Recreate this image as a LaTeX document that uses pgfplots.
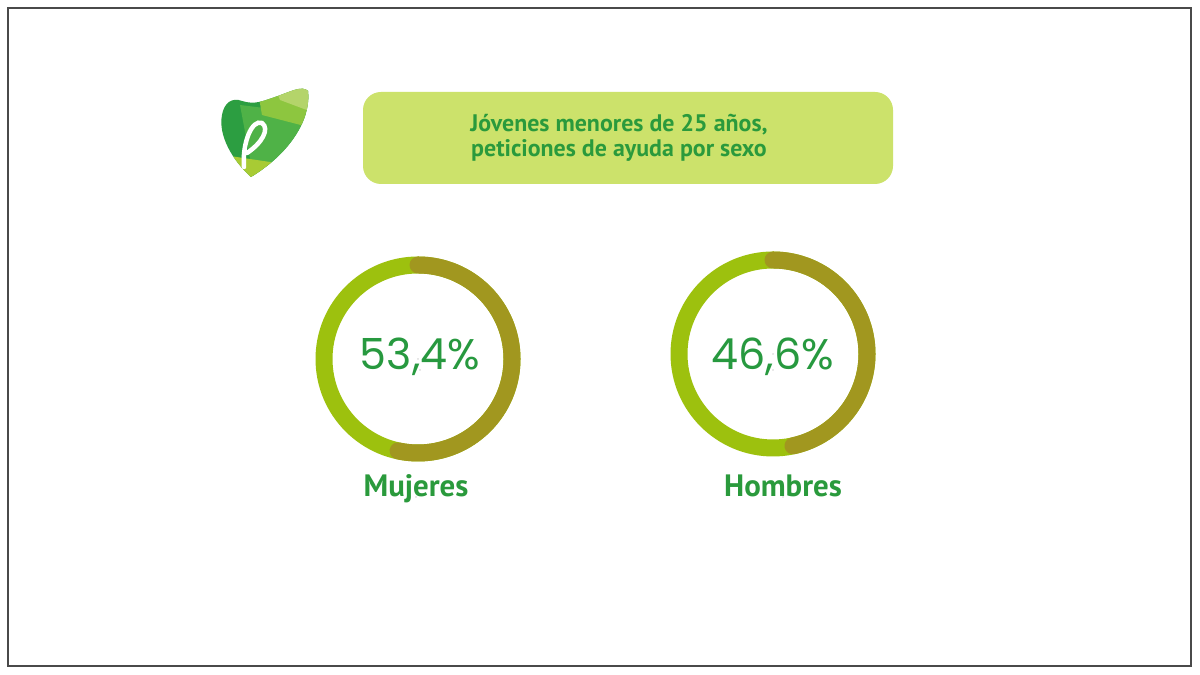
\documentclass[border=0pt]{standalone}
\usepackage{pgfplots}
\pgfplotsset{compat=1.18}
\usepackage{pgfplotstable}
\usepackage{fontspec}
\setmainfont{PT Sans}
\newfontfamily\pop{Poppins}
\definecolor{ringlight}{HTML}{9DC10E}
\definecolor{ringolive}{HTML}{A1971F}
\definecolor{pctgreen}{HTML}{27993F}
\definecolor{labgreen}{HTML}{2A9A3C}
\definecolor{boxfill}{HTML}{CCE26B}
\definecolor{framegray}{HTML}{4A4A4A}
\definecolor{lgA}{HTML}{2C9E41}
\definecolor{lgB}{HTML}{4FB247}
\definecolor{lgC}{HTML}{8DC63F}
\definecolor{lgD}{HTML}{B4D46A}
\definecolor{lgE}{HTML}{A8CB34}

% valor = share (%), cx/cy ring centre, px/py percent label, lx/ly name label
\pgfplotstableread{
sexo    valor cx  cy  px  py  lx  ly
Mujeres 53.4  418 316 420 305 416 178
Hombres 46.6  773 321 773 305 783 178
}\datos

\begin{document}
\begin{tikzpicture}[x=1bp,y=1bp]
\path[use as bounding box, fill=white] (0,0) rectangle (1200,675);
% frame
\draw[framegray, line width=1.5bp] (8,9) rectangle (1191,667);
% title box
\fill[boxfill, rounded corners=18bp] (363,491) rectangle (893,583);
\node[align=center, text=labgreen, font=\bfseries\fontsize{24}{24.5}\selectfont, inner sep=0pt]
  at (619,537) {Jóvenes menores de 25 años,\\ peticiones de ayuda por sexo};
% logo
\begin{scope}
\clip (251,498) .. controls (232,515) and (218,540) .. (222,560)
  .. controls (224,572) and (232,578) .. (242,574)
  .. controls (255,570) and (263,574) .. (275,578)
  .. controls (290,583) and (302,590) .. (308,584)
  .. controls (311,560) and (295,525) .. (251,498) -- cycle;
\fill[lgA] (210,490) rectangle (320,595);
\fill[lgB] (255,490) -- (320,490) -- (320,560) -- (240,570) -- cycle;
\fill[lgC] (262,560) -- (320,545) -- (320,600) -- (255,600) -- cycle;
\fill[lgD] (280,575) -- (320,560) -- (320,600) -- (270,600) -- cycle;
\fill[lgE] (210,490) -- (300,490) -- (290,510) -- (210,522) -- cycle;
\end{scope}
\draw[white, line width=4.5bp, line cap=round]
  (244,508) .. controls (242,532) and (252,556) .. (262,552)
  .. controls (270,546) and (262,532) .. (247,522);

\begin{axis}[at={(0,0)}, anchor=south west, scale only axis,
  width=1200bp, height=675bp, xmin=0, xmax=1200, ymin=0, ymax=675,
  hide axis, clip=false]
% rings: full light ring, olive arc = value share from the top, clockwise
\addplot[scatter, only marks, mark=*, mark size=0.01pt,
  mark options={draw=none, fill=none},
  point meta=explicit symbolic,
  scatter/@pre marker code/.code={%
    \pgfmathsetmacro\dang{-3.6*\pgfplotspointmeta}%
    \draw[ringlight, line width=17bp] (0,0) circle[radius=94bp];%
    \draw[ringolive, line width=17bp, line cap=round]
      (90:94bp) arc[start angle=90, delta angle=\dang, radius=94bp];%
  },
  scatter/@post marker code/.code={}]
  table[x=cx, y=cy, meta=valor] {\datos};
% percent labels
\addplot[only marks, mark=*, mark size=0.01pt, mark options={draw=none, fill=none},
  point meta=explicit,
  nodes near coords={\pgfmathprintnumber[use comma, fixed, precision=1, fixed zerofill, assume math mode=true]{\pgfplotspointmeta}\%},
  every node near coord/.append style={anchor=base, inner sep=0pt,
    text=pctgreen, font=\pop\fontsize{43}{43}\selectfont}]
  table[x=px, y=py, meta=valor] {\datos};
% name labels
\addplot[only marks, mark=*, mark size=0.01pt, mark options={draw=none, fill=none},
  point meta=explicit symbolic,
  nodes near coords={\pgfplotspointmeta},
  every node near coord/.append style={anchor=base, inner sep=0pt,
    text=labgreen, font=\bfseries\fontsize{31}{31}\selectfont}]
  table[x=lx, y=ly, meta=sexo] {\datos};
\end{axis}
\end{tikzpicture}
\end{document}
